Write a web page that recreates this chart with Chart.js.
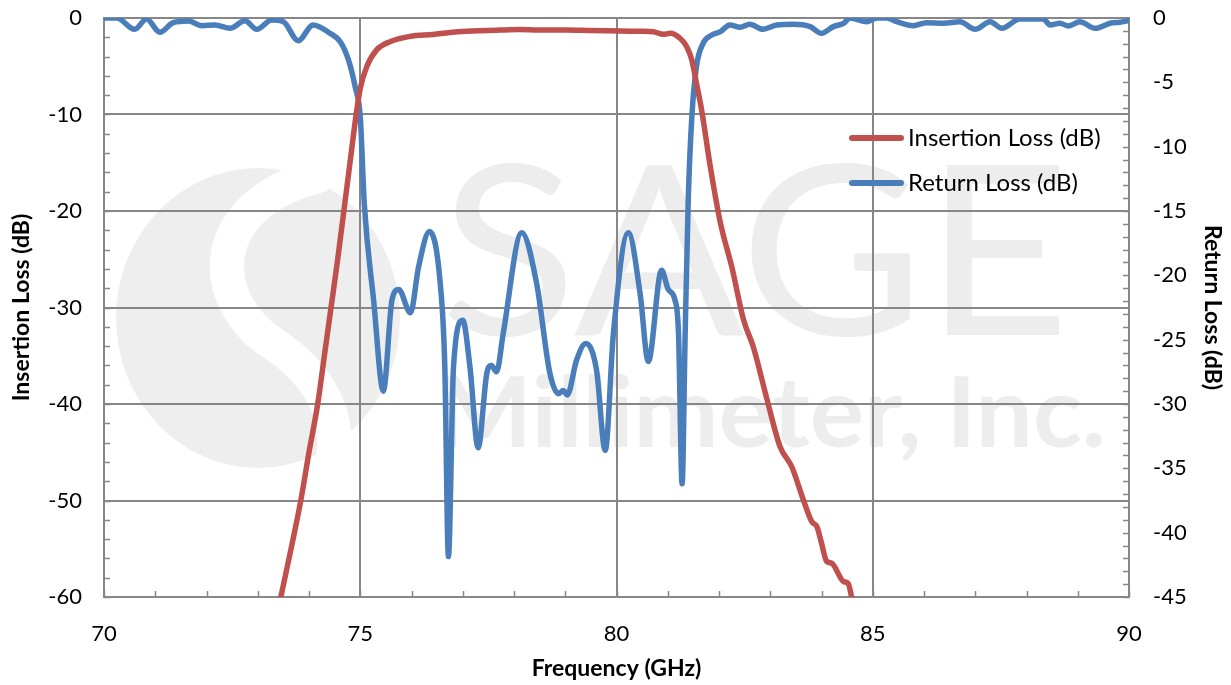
<!DOCTYPE html>
<html>
<head>
<meta charset="utf-8">
<script src="https://cdn.jsdelivr.net/npm/chart.js@4/dist/chart.umd.min.js"></script>
<style>
html,body{margin:0;padding:0;background:#fff;}
#wrap{width:1231px;height:685px;position:relative;}
</style>
</head>
<body>
<div id="wrap"><canvas id="c"></canvas></div>
<script>
// ---- Data ----
const ilFreq = [73.45,73.65,73.84,74.0,74.17,74.3,74.43,74.56,74.68,74.8,74.92,75.0,75.13,75.32,75.58,75.97,76.42,76.75,77.08,77.73,78.1,78.5,79.0,79.5,80.07,80.5,80.72,80.91,81.05,81.24,81.37,81.47,81.56,81.66,81.83,82.03,82.25,82.48,82.67,82.94,83.19,83.42,83.65,83.81,83.91,84.0,84.1,84.2,84.43,84.52,84.6];
const ilDb   = [-60,-55,-50,-45,-40,-35,-30,-25,-20,-15,-10,-7.3,-5.0,-3.3,-2.45,-1.9,-1.7,-1.5,-1.38,-1.25,-1.2,-1.25,-1.25,-1.3,-1.35,-1.38,-1.42,-1.69,-1.59,-2.1,-2.97,-4.35,-6.77,-9.5,-15.4,-21.3,-25.8,-31.3,-34.1,-39.6,-44.4,-46.5,-50.0,-52.2,-52.7,-54.4,-56.3,-56.5,-58.4,-58.6,-60.3];

const rlFreq = [70.0,70.25,70.6,70.83,71.09,71.35,71.65,71.91,72.17,72.46,72.75,72.98,73.27,73.5,73.79,74.08,74.41,74.61,74.77,74.9,75.0,75.08,75.26,75.45,75.62,75.75,75.98,76.14,76.35,76.56,76.65,76.72,76.82,77.0,77.14,77.3,77.47,77.56,77.66,77.79,78.15,78.44,78.7,78.87,78.96,79.04,79.22,79.4,79.61,79.78,79.94,80.23,80.46,80.62,80.88,81.01,81.14,81.21,81.28,81.34,81.4,81.47,81.56,81.69,81.86,82.03,82.21,82.41,82.6,82.86,83.13,83.45,83.78,84.0,84.23,84.43,84.56,84.88,85.08,85.27,85.47,85.79,86.05,86.38,86.7,87.0,87.29,87.52,87.87,88.33,88.46,88.65,88.82,89.04,89.34,89.63,89.82,90.0];
const rlDb   = [0,0,-0.88,-0.08,-1.11,-0.36,-0.23,-0.6,-0.54,-0.8,-0.21,-0.88,-0.16,-0.29,-1.76,-0.54,-1.19,-1.84,-3.26,-5.34,-7.67,-14.5,-21.9,-29.0,-21.9,-21.1,-22.9,-19.3,-16.6,-20.6,-27.1,-41.86,-27.1,-23.5,-27.1,-33.4,-27.6,-27.0,-27.5,-24.5,-16.7,-20.6,-27.6,-29.2,-28.96,-29.3,-26.6,-25.3,-27.35,-33.6,-24.5,-16.7,-21.4,-26.7,-19.6,-21.1,-21.9,-24.5,-36.2,-24.5,-14.1,-7.67,-3.78,-1.97,-1.32,-1.06,-0.54,-0.72,-0.49,-0.88,-0.54,-0.49,-0.67,-1.19,-0.67,-0.41,0,-0.29,0,0,-0.29,-0.6,-0.36,-0.41,-0.29,-0.88,-0.29,-0.8,-0.08,-0.08,-0.54,-0.41,-0.62,-0.29,-0.8,-0.41,-0.33,-0.2];

const seriesNames = ['Insertion Loss (dB)', 'Return Loss (dB)'];
const xTitle = 'Frequency (GHz)';
const yLeftTitle = 'Insertion Loss (dB)';
const yRightTitle = 'Return Loss (dB)';
const watermarkBig = 'SAGE';
const watermarkSmall = 'Millimeter, Inc.';

// ---- Styling ----
const RED = '#C0504D', BLUE = '#4A7EBB', GRID = '#878787';
const FONT = 'Lato, "Open Sans", sans-serif';

function pts(xs, ys){ return xs.map((x,i)=>({x:x, y:ys[i]})); }

const watermark = {
  id:'watermark',
  beforeDraw(chart){
    const ctx = chart.ctx;
    ctx.save();
    ctx.fillStyle = '#eeeeee';
    ctx.beginPath();
    ctx.ellipse(258, 318, 142, 150, 0, 0, Math.PI*2);
    ctx.fill();
    ctx.strokeStyle = '#ffffff';
    ctx.lineWidth = 34;
    ctx.lineCap = 'round';
    ctx.beginPath();
    ctx.moveTo(318, 176);
    ctx.bezierCurveTo(205, 205, 205, 300, 275, 345);
    ctx.bezierCurveTo(320, 375, 345, 420, 330, 470);
    ctx.stroke();
    ctx.fillStyle = '#ededed';
    ctx.textBaseline = 'alphabetic';
    ctx.font = '236px ' + FONT;
    let w = ctx.measureText(watermarkBig).width;
    ctx.save();
    ctx.translate(440, 335);
    ctx.scale(630 / w, 1);
    ctx.fillText(watermarkBig, 0, 0);
    ctx.restore();
    ctx.font = 'bold 98px ' + FONT;
    w = ctx.measureText(watermarkSmall).width;
    ctx.save();
    ctx.translate(436, 447);
    ctx.scale(670 / w, 1);
    ctx.fillText(watermarkSmall, 0, 0);
    ctx.restore();
    ctx.restore();
  }
};

const minorTicks = {
  id:'minorTicks',
  beforeDatasetsDraw(chart){
    const ctx = chart.ctx, a = chart.chartArea;
    const sx = chart.scales.x, yl = chart.scales.y, yr = chart.scales.y2;
    ctx.save();
    ctx.strokeStyle = GRID;
    ctx.lineWidth = 1.5;
    ctx.beginPath();
    for (let v = sx.min; v <= sx.max + 1e-9; v += 1) {
      const px = Math.round(sx.getPixelForValue(v)) + 0.5;
      ctx.moveTo(px, a.bottom); ctx.lineTo(px, a.bottom - 6);
    }
    for (let v = yl.min; v <= yl.max + 1e-9; v += 2) {
      const py = Math.round(yl.getPixelForValue(v)) + 0.5;
      ctx.moveTo(a.left, py); ctx.lineTo(a.left + 6, py);
    }
    for (let v = yr.min; v <= yr.max + 1e-9; v += 1) {
      const py = Math.round(yr.getPixelForValue(v)) + 0.5;
      ctx.moveTo(a.right, py); ctx.lineTo(a.right - 6, py);
    }
    ctx.stroke();
    ctx.restore();
  }
};

const insideLegend = {
  id:'insideLegend',
  afterDraw(chart){
    const ctx = chart.ctx;
    ctx.save();
    ctx.font = '24px ' + FONT;
    ctx.textBaseline = 'middle';
    ctx.fillStyle = '#000';
    chart.data.datasets.forEach((ds, i) => {
      const y = 138 + i * 45;
      ctx.strokeStyle = ds.borderColor;
      ctx.lineWidth = 6;
      ctx.lineCap = 'round';
      ctx.beginPath(); ctx.moveTo(852, y); ctx.lineTo(901, y); ctx.stroke();
      ctx.fillText(ds.label, 908, y);
    });
    ctx.restore();
  }
};

function noPadV(s){ s.paddingTop = 0; s.paddingBottom = 0; }

new Chart(document.getElementById('c'), {
  type:'line',
  data:{
    datasets:[
      {label:seriesNames[0], data:pts(ilFreq, ilDb), borderColor:RED, backgroundColor:RED, borderWidth:5.5, pointRadius:0, cubicInterpolationMode:'monotone', yAxisID:'y', borderCapStyle:'round', borderJoinStyle:'round'},
      {label:seriesNames[1], data:pts(rlFreq, rlDb), borderColor:BLUE, backgroundColor:BLUE, borderWidth:5.5, pointRadius:0, cubicInterpolationMode:'monotone', yAxisID:'y2', borderCapStyle:'round', borderJoinStyle:'round'}
    ]
  },
  options:{
    responsive:true, maintainAspectRatio:false, animation:false,
    layout:{padding:{top:18, left:0, right:0, bottom:0}},
    plugins:{legend:{display:false}, tooltip:{enabled:false}},
    scales:{
      x:{type:'linear', min:70, max:90,
        ticks:{stepSize:5, color:'#000', font:{family:FONT, size:22}, padding:24, maxRotation:0},
        grid:{color:GRID, lineWidth:2, drawTicks:false},
        border:{color:GRID, width:2},
        title:{display:true, text:xTitle, color:'#000', font:{family:FONT, size:23, weight:'bold'}, padding:{top:0,bottom:3}},
        afterFit(s){ s.height = 88; s.paddingLeft = 0; s.paddingRight = 0; }
      },
      y:{position:'left', min:-60, max:0,
        ticks:{stepSize:10, color:'#000', font:{family:FONT, size:22}, padding:22},
        grid:{color:GRID, lineWidth:2, drawTicks:false},
        border:{color:GRID, width:2},
        title:{display:true, text:yLeftTitle, color:'#000', font:{family:FONT, size:23, weight:'bold'}, padding:{top:8,bottom:8}},
        afterFit(s){ s.width = 104; noPadV(s); }
      },
      y2:{position:'right', min:-45, max:0,
        ticks:{stepSize:5, color:'#000', font:{family:FONT, size:22}, padding:24},
        grid:{drawOnChartArea:false, drawTicks:false},
        border:{color:GRID, width:2},
        title:{display:true, text:yRightTitle, color:'#000', font:{family:FONT, size:23, weight:'bold'}, padding:{top:5,bottom:5}},
        afterFit(s){ s.width = 102; noPadV(s); }
      }
    }
  },
  plugins:[watermark, minorTicks, insideLegend]
});
</script>
</body>
</html>
